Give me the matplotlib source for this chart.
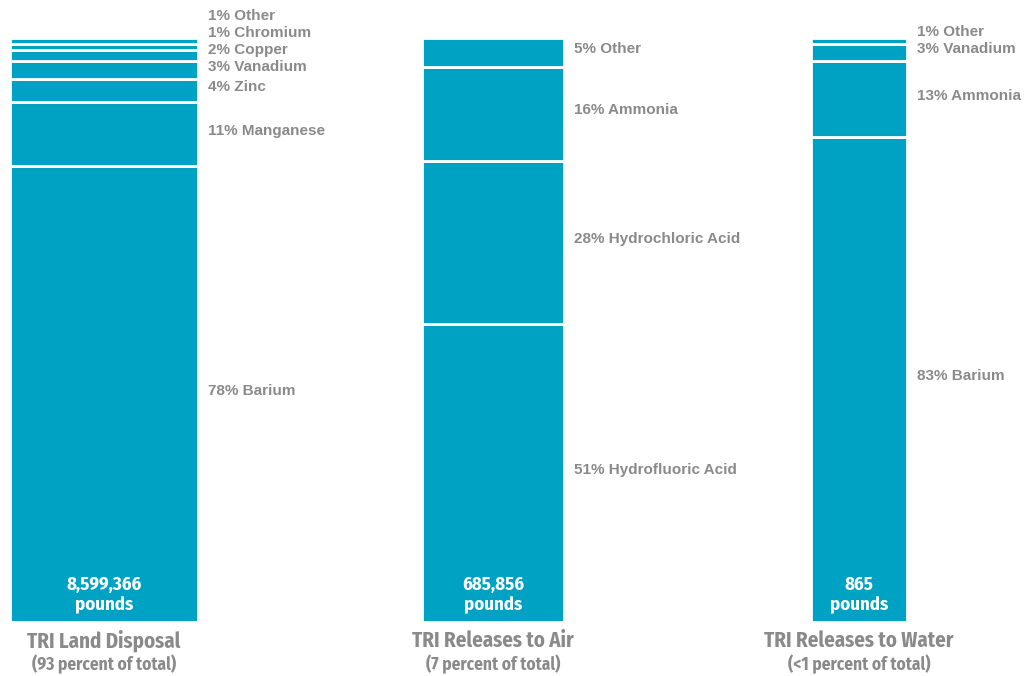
import matplotlib
matplotlib.use("Agg")
import matplotlib.pyplot as plt

# release categories, one stacked bar each
titles = ["TRI Land Disposal", "TRI Releases to Air", "TRI Releases to Water"]
subtitles = ["(93 percent of total)", "(7 percent of total)", "(<1 percent of total)"]
totals = ["8,599,366", "685,856", "865"]

# chemicals, bottom to top, with percent shares
land_names = ["Barium", "Manganese", "Zinc", "Vanadium", "Copper", "Chromium", "Other"]
land_pct = [78, 11, 4, 3, 2, 1, 1]
air_names = ["Hydrofluoric Acid", "Hydrochloric Acid", "Ammonia", "Other"]
air_pct = [51, 28, 16, 5]
water_names = ["Barium", "Ammonia", "Vanadium", "Other"]
water_pct = [83, 13, 3, 1]

TEAL = "#00a2c4"
GREY = "#8a8a8a"
COND = ["Fira Sans Condensed", "DejaVu Sans"]
LABEL = ["Liberation Sans", "DejaVu Sans"]

fig = plt.figure(figsize=(10.28, 6.76), dpi=100)
ax = fig.add_axes([0, 54 / 676, 1, 584 / 676])
ax.set_xlim(0, 1028)
ax.set_ylim(0, 100)
ax.axis("off")

# bar left edge and width in pixels
bars = [(10, 188), (422, 142), (811, 96)]
stacks = [(land_names, land_pct), (air_names, air_pct), (water_names, water_pct)]

for (left, width), (names, pct), title, sub, total in zip(bars, stacks, titles, subtitles, totals):
    bottom = 0
    last = -10
    for name, p in zip(names, pct):
        ax.bar(left, p, width=width, bottom=bottom, align="edge",
               color=TEAL, edgecolor="white", linewidth=2)
        # keep small-segment labels from overlapping
        y = max(bottom + p / 2, last + 2.9)
        last = y
        ax.text(left + width + 10, y + 0.6, f"{p}% {name}", ha="left", va="center",
                fontsize=11, fontweight="bold", color=GREY, family=LABEL)
        bottom += p
    cx = left + width / 2
    ax.text(cx, 6.3, total, ha="center", va="center", fontsize=13.5,
            fontweight="bold", color="white", family=COND, fontstretch="condensed")
    ax.text(cx, 2.8, "pounds", ha="center", va="center", fontsize=13.5,
            fontweight="bold", color="white", family=COND, fontstretch="condensed")
    ax.text(cx, -3.2, title, ha="center", va="center", fontsize=15,
            fontweight="bold", color=GREY, family=COND, fontstretch="condensed",
            clip_on=False)
    ax.text(cx, -7.3, sub, ha="center", va="center", fontsize=12.5,
            fontweight="bold", color=GREY, family=COND, fontstretch="condensed",
            clip_on=False)

fig.savefig("out.png", dpi=100)
